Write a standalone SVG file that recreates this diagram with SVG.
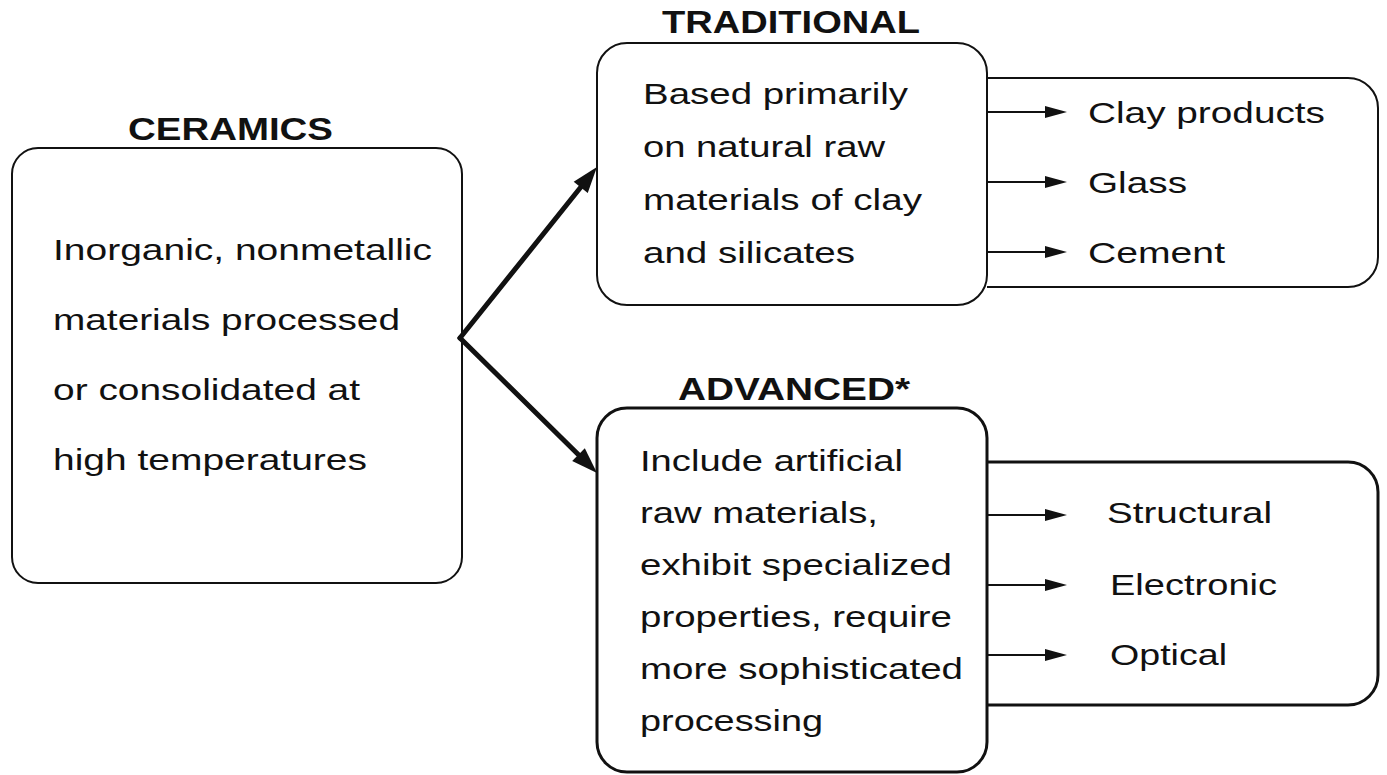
<svg xmlns="http://www.w3.org/2000/svg" width="1387" height="775" viewBox="0 0 1387 775">
  <defs>
    <style>
      .title { font-family: "Liberation Sans", Arial, sans-serif; font-weight: bold; font-size: 32px; fill: #111; }
      .body { font-family: "Liberation Sans", Arial, sans-serif; font-size: 30px; fill: #111; }
      .box { fill: #fff; stroke: #111; stroke-width: 2; }
      .boxb { fill: none; stroke: #111; stroke-width: 3; }
      .main { stroke: #111; stroke-width: 5; fill: none; stroke-linecap: round; }
      .thin { stroke: #111; stroke-width: 2; fill: none; }
    </style>
    <marker id="bigHead" markerUnits="userSpaceOnUse" viewBox="0 -9 26 18" refX="0" refY="0" markerWidth="26" markerHeight="18" orient="auto" overflow="visible">
      <path d="M0,-9 L26,0 L0,9 z" fill="#111"/>
    </marker>
    <marker id="smallHead" markerUnits="userSpaceOnUse" viewBox="0 -6 22 12" refX="0" refY="0" markerWidth="22" markerHeight="12" orient="auto" overflow="visible">
      <path d="M0,-6 L22,0 L0,6 z" fill="#111"/>
    </marker>
  </defs>

  <rect width="1387" height="775" fill="#fff"/>

  <g id="node-ceramics">
    <text class="title" x="128" y="140" textLength="205" lengthAdjust="spacingAndGlyphs">CERAMICS</text>
    <rect class="box" x="12" y="148" width="450" height="435" rx="26" ry="26"/>
    <text class="body" x="53" y="260" textLength="379" lengthAdjust="spacingAndGlyphs">Inorganic, nonmetallic</text>
    <text class="body" x="53" y="330" textLength="347" lengthAdjust="spacingAndGlyphs">materials processed</text>
    <text class="body" x="53" y="400" textLength="307" lengthAdjust="spacingAndGlyphs">or consolidated at</text>
    <text class="body" x="53" y="470" textLength="314" lengthAdjust="spacingAndGlyphs">high temperatures</text>
  </g>

  <g id="node-traditional-items">
    <path class="box" d="M987,78 H1348 A30,30 0 0 1 1378,108 V257 A30,30 0 0 1 1348,287 H987"/>
    <text class="body" x="1088" y="123" textLength="237" lengthAdjust="spacingAndGlyphs">Clay products</text>
    <text class="body" x="1088" y="193" textLength="99" lengthAdjust="spacingAndGlyphs">Glass</text>
    <text class="body" x="1088" y="263" textLength="137" lengthAdjust="spacingAndGlyphs">Cement</text>
  </g>

  <g id="node-traditional">
    <text class="title" x="662" y="33" textLength="258" lengthAdjust="spacingAndGlyphs">TRADITIONAL</text>
    <rect class="box" x="597" y="43" width="390" height="262" rx="30" ry="30"/>
    <text class="body" x="643" y="104" textLength="265" lengthAdjust="spacingAndGlyphs">Based primarily</text>
    <text class="body" x="643" y="157" textLength="242" lengthAdjust="spacingAndGlyphs">on natural raw</text>
    <text class="body" x="643" y="210" textLength="279" lengthAdjust="spacingAndGlyphs">materials of clay</text>
    <text class="body" x="643" y="263" textLength="212" lengthAdjust="spacingAndGlyphs">and silicates</text>
  </g>

  <g id="node-advanced-items">
    <path class="boxb" d="M987,462 H1348 A30,30 0 0 1 1378,492 V675 A30,30 0 0 1 1348,705 H987"/>
    <text class="body" x="1107" y="523" textLength="165" lengthAdjust="spacingAndGlyphs">Structural</text>
    <text class="body" x="1110" y="595" textLength="167" lengthAdjust="spacingAndGlyphs">Electronic</text>
    <text class="body" x="1110" y="665" textLength="117" lengthAdjust="spacingAndGlyphs">Optical</text>
  </g>

  <g id="node-advanced">
    <text class="title" x="678" y="400" textLength="232" lengthAdjust="spacingAndGlyphs">ADVANCED*</text>
    <rect class="boxb" x="597" y="408" width="390" height="364" rx="30" ry="30" fill="#fff"/>
    <text class="body" x="640" y="471" textLength="263" lengthAdjust="spacingAndGlyphs">Include artificial</text>
    <text class="body" x="640" y="523" textLength="238" lengthAdjust="spacingAndGlyphs">raw materials,</text>
    <text class="body" x="640" y="575" textLength="312" lengthAdjust="spacingAndGlyphs">exhibit specialized</text>
    <text class="body" x="640" y="627" textLength="312" lengthAdjust="spacingAndGlyphs">properties, require</text>
    <text class="body" x="640" y="679" textLength="323" lengthAdjust="spacingAndGlyphs">more sophisticated</text>
    <text class="body" x="640" y="731" textLength="183" lengthAdjust="spacingAndGlyphs">processing</text>
  </g>

  <g id="connectors">
    <line class="main" x1="460" y1="338" x2="580.7" y2="187.3" marker-end="url(#bigHead)"/>
    <line class="main" x1="460" y1="338" x2="578.5" y2="454.7" marker-end="url(#bigHead)"/>
    <line class="thin" x1="987" y1="112" x2="1045" y2="112" marker-end="url(#smallHead)"/>
    <line class="thin" x1="987" y1="182" x2="1045" y2="182" marker-end="url(#smallHead)"/>
    <line class="thin" x1="987" y1="252" x2="1045" y2="252" marker-end="url(#smallHead)"/>
    <line class="thin" x1="987" y1="515" x2="1045" y2="515" marker-end="url(#smallHead)"/>
    <line class="thin" x1="987" y1="585" x2="1045" y2="585" marker-end="url(#smallHead)"/>
    <line class="thin" x1="987" y1="655" x2="1045" y2="655" marker-end="url(#smallHead)"/>
  </g>
</svg>
